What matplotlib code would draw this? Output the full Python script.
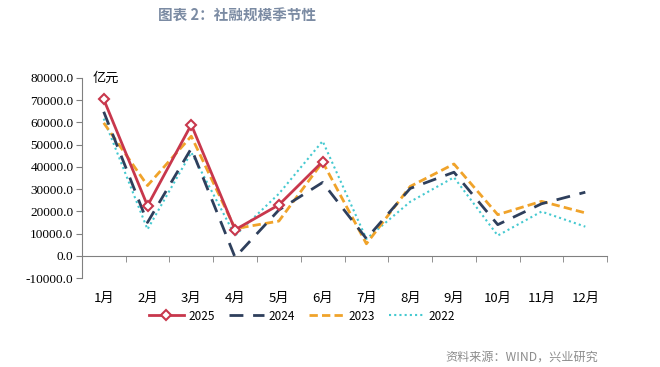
import matplotlib
matplotlib.use("Agg")
import matplotlib.pyplot as plt
from matplotlib.ticker import FixedLocator

plt.rcParams['font.family'] = ['Liberation Serif', 'Noto Sans CJK SC']

months = ["1月", "2月", "3月", "4月", "5月", "6月", "7月", "8月", "9月", "10月", "11月", "12月"]
y2025 = [70400, 22500, 59000, 11700, 22900, 42400]
y2024 = [64800, 15000, 48300, -700, 20600, 33000, 7700, 30300, 37600, 14000, 23400, 28600]
y2023 = [59800, 31600, 53800, 12200, 15600, 42200, 5400, 31200, 41300, 18500, 24500, 19300]
y2022 = [61700, 11900, 46500, 9100, 27900, 51600, 7600, 24300, 35300, 9100, 19900, 13100]

fig = plt.figure(figsize=(6.6, 3.67), dpi=100)
ax = fig.add_axes([0.124, 0.2425, 0.796, 0.545])

x = list(range(12))
ax.plot(x[:len(y2025)], y2025, color="#C8374C", lw=2, marker="D", ms=5,
        mfc="white", mec="#C8374C", mew=1.5, label="2025", zorder=5)
ax.plot(x, y2024, color="#2E3F5C", lw=2, dashes=(5, 3.5), label="2024", zorder=4)
ax.plot(x, y2023, color="#F0A32A", lw=2, dashes=(3, 1.5), label="2023", zorder=3)
ax.plot(x, y2022, color="#45C9D0", lw=1.5, linestyle=(0, (1, 1.5)), label="2022", zorder=2)

ax.set_xlim(-0.5, 11.5)
ax.set_ylim(-10000, 80000)
ax.set_yticks(range(-10000, 80001, 10000))
ax.set_yticklabels([f"{v:.1f}" for v in range(-10000, 80001, 10000)], fontsize=9.5)
ax.tick_params(axis="y", direction="out", length=4, color="#808080", pad=2)

ax.spines["top"].set_visible(False)
ax.spines["right"].set_visible(False)
ax.spines["left"].set_color("#808080")
ax.spines["bottom"].set_color("#808080")
ax.spines["bottom"].set_position(("data", 0))

ax.set_xticks(x)
ax.set_xticklabels(months, fontsize=9.5, family=['Noto Sans CJK SC'])
ax.xaxis.set_minor_locator(FixedLocator([i + 0.5 for i in range(-1, 12)]))
ax.tick_params(axis="x", which="major", length=0, pad=26)
ax.tick_params(axis="x", which="minor", direction="out", length=4, color="#808080")

ax.text(0.02, 1.0, "亿元", transform=ax.transAxes, fontsize=9.5, va="center",
        family=['Noto Sans CJK SC'])

leg = fig.legend(loc="center", bbox_to_anchor=(302 / 660, 1 - 316 / 367), ncol=4,
                 frameon=False, handlelength=3.0, columnspacing=1.2,
                 handletextpad=0.35, prop={'family': ['Noto Sans CJK SC'], 'size': 8.5})

fig.text(237 / 660, 1 - 16 / 367, "图表 2：社融规模季节性", ha="center", va="center",
         fontsize=10.5, fontweight="bold", color="#7B8BA3", family=['Noto Sans CJK SC'])
fig.text(598 / 660, 1 - 357 / 367, "资料来源：WIND，兴业研究", ha="right", va="center",
         fontsize=8.7, color="#8C8C8C", family=['Noto Sans CJK SC'])

fig.savefig("out.png", dpi=100)
